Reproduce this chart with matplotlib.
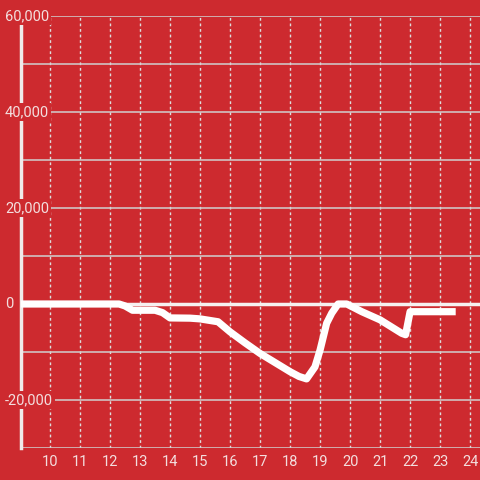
import matplotlib
matplotlib.use("Agg")
import matplotlib.pyplot as plt
from matplotlib.ticker import MultipleLocator, FixedLocator
from matplotlib.transforms import blended_transform_factory

# data
hours = [9.0, 12.3, 12.5, 12.75, 13.5, 13.75, 14.0, 14.67, 15.0, 15.6, 16.0, 16.5,
         17.0, 17.5, 18.0, 18.3, 18.55, 18.83, 19.0, 19.22, 19.39, 19.6, 19.89,
         20.39, 21.0, 21.72, 21.85, 22.0, 23.4]
values = [0, 0, -400, -1300, -1300, -1800, -2900, -2950, -3100, -3700, -5800, -8100,
          -10300, -12200, -14100, -15100, -15600, -13100, -9600, -4000, -1900, 0, 0,
          -1600, -3300, -6100, -6400, -1600, -1600]
x_ticks = list(range(10, 25))
y_ticks = [-20000, 0, 20000, 40000, 60000]
y_labels = ["-20,000", "0", "20,000", "40,000", "60,000"]

bg = "#cd2a2f"
txt = "#f3dede"
plt.rcParams['font.family'] = ['Roboto', 'DejaVu Sans']

fig = plt.figure(figsize=(4.8, 4.8), dpi=100, facecolor=bg)
ax = fig.add_axes([21 / 480, 32 / 480, 459 / 480, 432 / 480], facecolor=bg)

ax.set_xlim(9.033, 24.33)
ax.set_ylim(-30000, 60000)

# grid
ax.yaxis.set_major_locator(MultipleLocator(10000))
ax.grid(which='major', axis='y', color='#d0d0d0', lw=1.1)
ax.xaxis.set_major_locator(FixedLocator(x_ticks))
ax.grid(which='major', axis='x', color='#dddddd', lw=1, linestyle=(0, (2, 2)))
ax.set_axisbelow(True)

ax.axhline(0, color='#f6f0f0', lw=2.5, zorder=2)
ax.plot(hours, values, color='white', lw=5.2, solid_joinstyle='round', zorder=3)

for s in ['top', 'right', 'bottom']:
    ax.spines[s].set_visible(False)
ax.spines['left'].set_color('#f0eaea')
ax.spines['left'].set_linewidth(2.5)
ax.spines['left'].set_bounds(-30000, 58300)
ax.spines['left'].set_zorder(1)

ax.set_xticklabels([str(t) for t in x_ticks])
ax.set_yticklabels([])
ax.tick_params(axis='x', length=0, pad=5, labelsize=10.5, labelcolor=txt)
ax.tick_params(axis='y', length=0)

trans = blended_transform_factory(ax.transAxes, ax.transData)
for v, lab in zip(y_ticks, y_labels):
    ax.text(-16 / 459, v, lab, transform=trans, ha='left', va='center',
            fontsize=10.5, color=txt, clip_on=False, zorder=6,
            bbox=dict(facecolor=bg, edgecolor='none', pad=1.5))

fig.savefig("out.png", dpi=100, facecolor=bg)
